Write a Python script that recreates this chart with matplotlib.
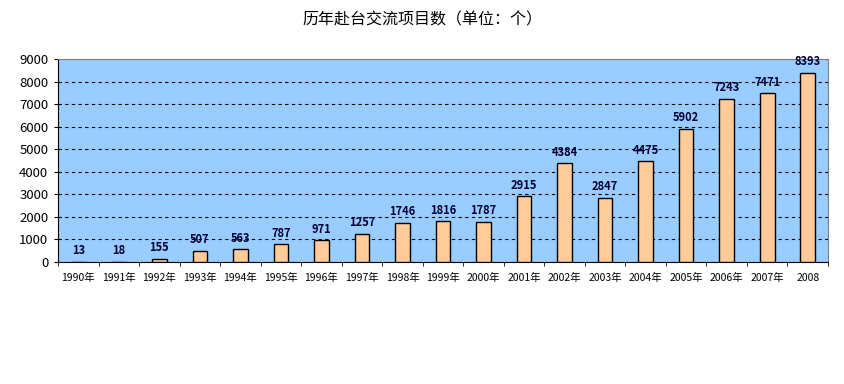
import matplotlib
matplotlib.use("Agg")
import matplotlib.pyplot as plt
import numpy as np

plt.rcParams['font.family'] = ['Noto Sans CJK SC', 'DejaVu Sans']

years = ["1990年", "1991年", "1992年", "1993年", "1994年", "1995年", "1996年", "1997年",
         "1998年", "1999年", "2000年", "2001年", "2002年", "2003年", "2004年", "2005年",
         "2006年", "2007年", "2008"]
values = [13, 18, 155, 507, 563, 787, 971, 1257, 1746, 1816, 1787, 2915, 4384, 2847,
          4475, 5902, 7243, 7471, 8393]
title = "历年赴台交流项目数（单位：个）"

fig = plt.figure(figsize=(8.45, 3.84), dpi=100)
ax = fig.add_axes([58/845, 1-262/384, (828-58)/845, (262-59)/384])
ax.set_facecolor("#99CCFF")
x = np.arange(len(years))
ax.bar(x, values, width=0.36, color="#FFCC99", edgecolor="black", linewidth=1, zorder=3)
ax.set_xlim(-0.5, len(years)-0.5)
ax.set_ylim(0, 9000)
ax.set_yticks(np.arange(0, 9001, 1000))
ax.tick_params(axis='y', labelsize=9.5, length=3, colors="black", pad=4)
ax.set_xticks(x)
ax.set_xticklabels(years, fontsize=7.5)
ax.tick_params(axis='x', length=0, pad=8)
ax.set_xticks(np.arange(-0.5, len(years), 1), minor=True)
ax.tick_params(axis='x', which='minor', length=3)
ax.yaxis.grid(True, linestyle=(0, (3, 3)), color="black", linewidth=0.8, zorder=1)
ax.set_axisbelow(True)
for s in ["top", "right"]:
    ax.spines[s].set_color("#808080")
for s in ["left", "bottom"]:
    ax.spines[s].set_color("black")
for xi, v in zip(x, values):
    ax.text(xi, v + 200, str(v), ha="center", va="bottom", fontsize=8,
            fontweight="bold", color="#000033", zorder=4)
fig.text(0.5, 1-20/384, title, ha="center", va="center", fontsize=11.5)
fig.savefig("out.png", dpi=100)
